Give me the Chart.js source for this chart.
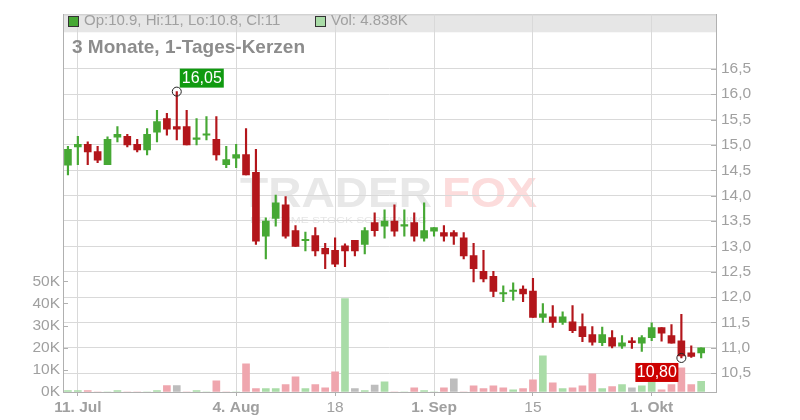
<!DOCTYPE html>
<html>
<head>
<meta charset="utf-8">
<script src="https://cdn.jsdelivr.net/npm/chart.js@4.4.0/dist/chart.umd.min.js"></script>
<style>
  html, body { margin: 0; padding: 0; background: #fff; }
  #wrap { width: 800px; height: 420px; position: relative; }
</style>
</head>
<body>
<div id="wrap"><canvas id="chart"></canvas></div>
<script>
// trading days (last slot is an empty day at the right edge)
const days = [
  "10.07.", "11.07.", "14.07.", "15.07.", "16.07.", "17.07.", "18.07.", "21.07.", "22.07.", "23.07.",
  "24.07.", "25.07.", "28.07.", "29.07.", "30.07.", "31.07.", "01.08.", "04.08.", "05.08.", "06.08.",
  "07.08.", "08.08.", "11.08.", "12.08.", "13.08.", "14.08.", "15.08.", "18.08.", "19.08.", "20.08.",
  "21.08.", "22.08.", "25.08.", "26.08.", "27.08.", "28.08.", "29.08.", "01.09.", "02.09.", "03.09.",
  "04.09.", "05.09.", "08.09.", "09.09.", "10.09.", "11.09.", "12.09.", "15.09.", "16.09.", "17.09.",
  "18.09.", "19.09.", "22.09.", "23.09.", "24.09.", "25.09.", "26.09.", "29.09.", "30.09.", "01.10.",
  "02.10.", "03.10.", "06.10.", "07.10.", "08.10.", "09.10."
];

const open = [
  14.60, 14.96, 15.01, 14.87, 14.61, 15.15, 15.17, 15.01, 14.90, 15.25,
  15.52, 15.36, 15.36, 15.11, 15.19, 15.11, 14.61, 14.74, 14.81, 14.46,
  13.20, 13.55, 13.82, 13.31, 13.11, 13.21, 12.96, 12.92, 13.01, 13.12,
  13.04, 13.47, 13.40, 13.50, 13.40, 13.47, 13.16, 13.30, 13.27, 13.27,
  13.17, 12.82, 12.51, 12.41, 12.06, 12.11, 12.16, 12.12, 11.60, 11.61,
  11.50, 11.51, 11.42, 11.26, 11.10, 11.20, 11.03, 11.14, 11.09, 11.20,
  11.40, 11.24, 11.14, 10.90, 10.90
];
const high = [
  14.97, 15.17, 15.06, 14.97, 15.16, 15.36, 15.21, 15.11, 15.32, 15.68,
  15.62, 16.05, 15.68, 15.52, 15.56, 15.56, 14.97, 15.01, 15.32, 14.91,
  13.56, 14.01, 13.98, 13.41, 13.28, 13.37, 13.06, 13.17, 13.05, 13.12,
  13.37, 13.66, 13.72, 13.82, 13.72, 13.66, 13.86, 13.37, 13.41, 13.31,
  13.27, 13.06, 12.92, 12.51, 12.22, 12.28, 12.22, 12.37, 11.87, 11.83,
  11.71, 11.83, 11.67, 11.42, 11.41, 11.34, 11.24, 11.20, 11.24, 11.49,
  11.40, 11.46, 11.66, 11.04, 11.00
];
const low = [
  14.41, 14.61, 14.61, 14.65, 14.61, 15.06, 14.96, 14.86, 14.80, 15.06,
  15.19, 15.10, 15.00, 15.00, 15.10, 14.70, 14.55, 14.55, 14.41, 13.04,
  12.75, 13.40, 13.16, 13.00, 12.91, 12.81, 12.56, 12.60, 12.60, 12.81,
  12.85, 13.20, 13.16, 13.20, 13.20, 13.10, 13.10, 13.20, 13.10, 13.04,
  12.75, 12.30, 12.30, 12.01, 11.91, 11.94, 11.91, 11.60, 11.50, 11.40,
  11.46, 11.30, 11.12, 11.05, 11.04, 11.00, 10.99, 10.99, 10.93, 11.14,
  11.13, 11.09, 10.80, 10.81, 10.80
];
const close = [
  14.91, 15.01, 14.86, 14.70, 15.11, 15.21, 15.00, 14.90, 15.21, 15.46,
  15.31, 15.31, 15.00, 15.11, 15.22, 14.80, 14.71, 14.81, 14.41, 13.10,
  13.50, 13.86, 13.20, 13.00, 13.11, 12.91, 12.85, 12.65, 12.91, 12.91,
  13.31, 13.31, 13.50, 13.30, 13.40, 13.20, 13.31, 13.37, 13.20, 13.20,
  12.81, 12.56, 12.36, 12.11, 12.06, 12.11, 12.06, 11.60, 11.67, 11.50,
  11.61, 11.34, 11.22, 11.11, 11.26, 11.03, 11.10, 11.10, 11.20, 11.40,
  11.29, 11.09, 10.84, 10.83, 11.00
];
// volume in thousands
const volume = [
  0.6, 0.6, 0.6, 0, 0, 0.6, 0, 0, 0, 0.6,
  2.85, 2.85, 0, 0.6, 0, 5.1, 0, 0, 12.7, 1.5,
  1.5, 1.5, 3.3, 6.9, 1.5, 3.3, 1.9, 9.1, 42.2, 1.5,
  0.6, 3.1, 4.6, 0, 0, 1.9, 0.6, 0, 1.9, 6.0,
  0, 2.8, 1.5, 2.8, 1.9, 1.0, 1.5, 5.5, 16.3, 4.2,
  1.5, 1.9, 2.8, 8.2, 1.5, 2.4, 3.3, 1.9, 2.8, 6.0,
  1.0, 3.3, 10.9, 3.3, 4.838
];

const priceTicks = [10.5, 11, 11.5, 12, 12.5, 13, 13.5, 14, 14.5, 15, 15.5, 16, 16.5];
const volTicks = [0, 10, 20, 30, 40, 50];
const xTickDays = ["11.07.", "04.08.", "18.08.", "01.09.", "15.09.", "01.10."];
const xTickText = ["11. Jul", "4. Aug", "18", "1. Sep", "15", "1. Okt"];
const xTickBold = [true, true, false, true, false, true];

const UP = "#46a834";
const DOWN = "#b3161b";
const VOL_UP = "#a9dca7";
const VOL_DOWN = "#efa6ae";
const VOL_FLAT = "#bdbdbd";
const GRID = "#d9d9d9";
const AXIS = "#b0b0b0";
const TXT = "#a0a0a0";
const FONT = "'Liberation Sans', Arial, sans-serif";

Chart.defaults.font.family = FONT;

const bodyColors = open.map((o, i) => (close[i] >= o ? UP : DOWN));
const volColors = close.map((c, i) => {
  const prev = i > 0 ? close[i - 1] : open[i];
  if (c > prev) return VOL_UP;
  if (c < prev) return VOL_DOWN;
  return VOL_FLAT;
});

const fmt = (v, d) => v.toFixed(d).replace(".", ",");

const decor = {
  id: "decor",
  beforeDraw(chart) {
    const ctx = chart.ctx;
    const a = chart.chartArea;
    ctx.save();
    // header bar
    ctx.fillStyle = "#e6e6e6";
    ctx.fillRect(a.left, a.top, a.right - a.left, 18);
    ctx.strokeStyle = "#c8c8c8";
    ctx.lineWidth = 1;
    ctx.beginPath();
    ctx.moveTo(a.left, a.top + 0.5);
    ctx.lineTo(a.right, a.top + 0.5);
    ctx.stroke();

    // watermark
    ctx.textBaseline = "alphabetic";
    ctx.font = "bold 42px " + FONT;
    let w = ctx.measureText("TRADER").width;
    ctx.save();
    ctx.translate(240, 207);
    ctx.scale(192 / w, 1);
    ctx.fillStyle = "#e8e8e8";
    ctx.fillText("TRADER", 0, 0);
    ctx.restore();
    w = ctx.measureText("FOX").width;
    ctx.save();
    ctx.translate(442, 207);
    ctx.scale(95 / w, 1);
    ctx.fillStyle = "#fcdcdc";
    ctx.fillText("FOX", 0, 0);
    ctx.restore();
    ctx.font = "9px " + FONT;
    w = ctx.measureText("REALTIME STOCK SCREENING").width;
    ctx.save();
    ctx.translate(250, 223);
    ctx.scale(177 / w, 1);
    ctx.fillStyle = "#e6e6e6";
    ctx.fillText("REALTIME STOCK SCREENING", 0, 0);
    ctx.restore();
    ctx.restore();
  },
  afterDraw(chart) {
    const ctx = chart.ctx;
    const a = chart.chartArea;
    const x = chart.scales.x;
    const y = chart.scales.y;
    const v = chart.scales.vol;
    ctx.save();

    // inward tick marks
    ctx.strokeStyle = AXIS;
    ctx.lineWidth = 1;
    ctx.beginPath();
    priceTicks.forEach((p) => {
      const py = Math.round(y.getPixelForValue(p)) + 0.5;
      ctx.moveTo(a.right - 5, py);
      ctx.lineTo(a.right, py);
    });
    volTicks.forEach((t) => {
      const py = Math.round(v.getPixelForValue(t)) + 0.5;
      ctx.moveTo(a.left, py);
      ctx.lineTo(a.left + 5, py);
    });
    ctx.stroke();

    // header legend
    const last = open.length - 1;
    ctx.textBaseline = "middle";
    ctx.font = "15px " + FONT;
    ctx.fillStyle = UP;
    ctx.fillRect(68.5, 16.5, 10, 10);
    ctx.strokeStyle = "#333";
    ctx.strokeRect(68.5, 16.5, 10, 10);
    ctx.fillStyle = TXT;
    ctx.fillText(
      "Op:" + open[last] + ", Hi:" + high[last] + ", Lo:" + low[last] + ", Cl:" + close[last],
      84, 21
    );
    ctx.fillStyle = VOL_UP;
    ctx.fillRect(315.5, 16.5, 10, 10);
    ctx.strokeRect(315.5, 16.5, 10, 10);
    ctx.fillStyle = TXT;
    ctx.fillText("Vol: " + volume[last] + "K", 331, 21);

    // title
    ctx.font = "bold 19px " + FONT;
    ctx.fillStyle = "#8c8c8c";
    ctx.fillText("3 Monate, 1-Tages-Kerzen", 72, 48);

    // high / low markers
    let hi = 0, lo = 0;
    high.forEach((h, i) => { if (h > high[hi]) hi = i; });
    low.forEach((l, i) => { if (l < low[lo]) lo = i; });

    ctx.font = "16px " + FONT;
    ctx.textAlign = "center";
    const hx = x.getPixelForValue(hi), hy = y.getPixelForValue(high[hi]);
    ctx.fillStyle = "#109a10";
    ctx.fillRect(hx + 3, hy - 23, 44, 19);
    ctx.fillStyle = "#fff";
    ctx.fillText(fmt(high[hi], 2), hx + 25, hy - 13);

    const lx = x.getPixelForValue(lo), ly = y.getPixelForValue(low[lo]);
    ctx.fillStyle = "#cc0000";
    ctx.fillRect(lx - 46, ly + 5, 43, 19);
    ctx.fillStyle = "#fff";
    ctx.fillText(fmt(low[lo], 2), lx - 24.5, ly + 15);

    ctx.strokeStyle = "#222";
    ctx.lineWidth = 1;
    [[hx, hy], [lx, ly]].forEach(([px, py]) => {
      ctx.beginPath();
      ctx.arc(px, py, 4.5, 0, Math.PI * 2);
      ctx.stroke();
    });
    ctx.restore();
  }
};

new Chart(document.getElementById("chart"), {
  type: "bar",
  data: {
    labels: days,
    datasets: [
      {
        label: "Body",
        data: open.map((o, i) => [o, close[i]]),
        backgroundColor: bodyColors,
        barThickness: 7,
        minBarLength: 1.5,
        grouped: false,
        yAxisID: "y",
        order: 0
      },
      {
        label: "Wick",
        data: low.map((l, i) => [l, high[i]]),
        backgroundColor: bodyColors,
        barThickness: 1.5,
        grouped: false,
        yAxisID: "y",
        order: 1
      },
      {
        label: "Vol",
        data: volume,
        backgroundColor: volColors,
        barThickness: 7,
        grouped: false,
        yAxisID: "vol",
        order: 2
      }
    ]
  },
  options: {
    responsive: true,
    maintainAspectRatio: false,
    animation: false,
    events: [],
    layout: { padding: { top: 11, left: 0, right: 0, bottom: 0 } },
    plugins: { legend: { display: false }, tooltip: { enabled: false } },
    scales: {
      x: {
        type: "category",
        offset: true,
        grid: { offset: false, color: GRID, tickColor: AXIS, tickLength: 4 },
        border: { color: AXIS },
        afterBuildTicks: (s) => {
          s.ticks = xTickDays.map((d) => ({ value: days.indexOf(d) }));
        },
        afterFit: (s) => { s.height = 28; },
        ticks: {
          autoSkip: false,
          maxRotation: 0,
          padding: 2,
          color: TXT,
          font: (c) => {
            const k = c.tick ? xTickDays.indexOf(days[c.tick.value]) : -1;
            return { size: 15.5, weight: xTickBold[k] ? "bold" : "normal" };
          },
          callback: (val) => {
            const k = xTickDays.indexOf(days[val]);
            return k >= 0 ? xTickText[k] : "";
          }
        }
      },
      y: {
        position: "right",
        min: 10.129,
        max: 17.574,
        bounds: "data",
        grid: { color: GRID, drawTicks: false },
        border: { color: AXIS },
        afterBuildTicks: (s) => { s.ticks = priceTicks.map((p) => ({ value: p })); },
        afterFit: (s) => { s.width = 84; },
        ticks: {
          padding: 5,
          color: TXT,
          font: { size: 15.5 },
          callback: (val) => fmt(val, 1)
        }
      },
      vol: {
        position: "left",
        min: 0,
        max: 170.7,
        bounds: "data",
        grid: { drawOnChartArea: false, drawTicks: false },
        border: { color: AXIS },
        afterBuildTicks: (s) => { s.ticks = volTicks.map((t) => ({ value: t })); },
        afterFit: (s) => { s.width = 63; },
        ticks: {
          padding: 3,
          color: TXT,
          font: { size: 15.5 },
          callback: (val) => val + "K"
        }
      }
    }
  },
  plugins: [decor]
});
</script>
</body>
</html>
